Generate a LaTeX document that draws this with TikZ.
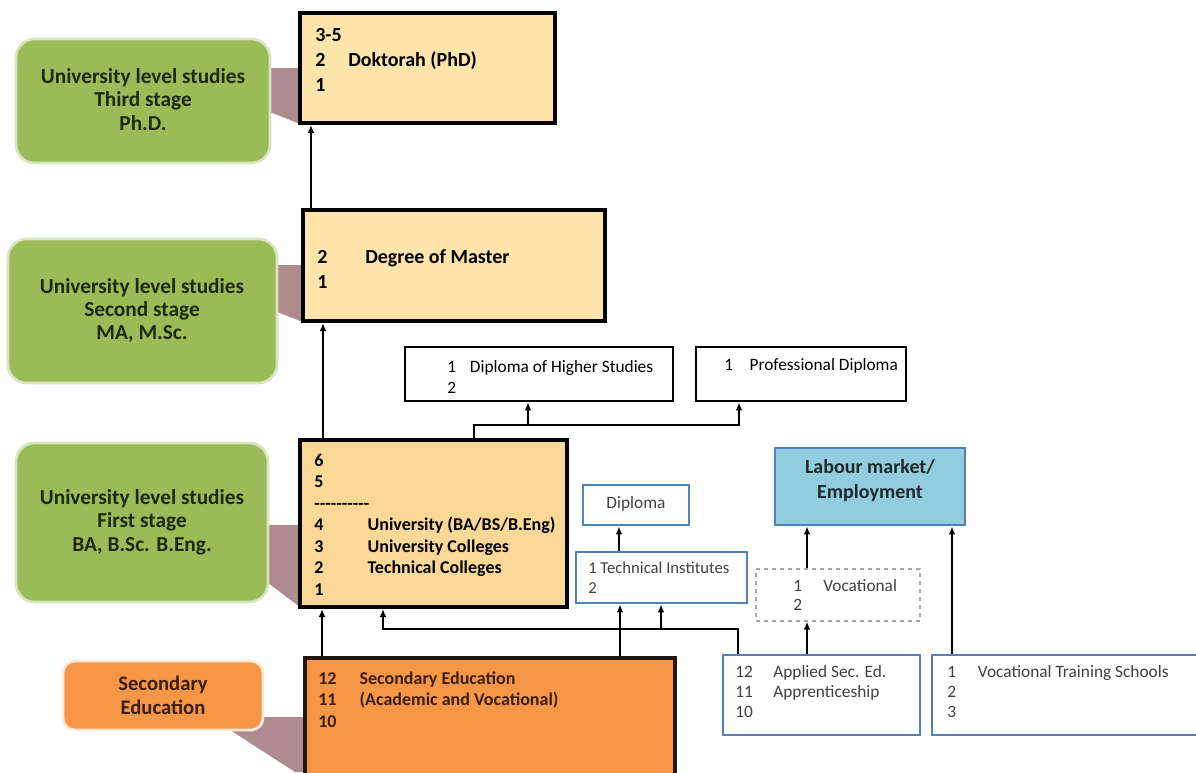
\documentclass[tikz,border=0pt]{standalone}
\usepackage{fontspec}
\setmainfont{Carlito}
\usetikzlibrary{arrows.meta,fit}

\definecolor{stagegreen}{HTML}{9BBB59}
\definecolor{stageedge}{HTML}{D7E4BD}
\definecolor{stagetext}{HTML}{1D2A0C}
\definecolor{secorange}{HTML}{F79646}
\definecolor{sectext}{HTML}{3A1F0A}
\definecolor{peach}{HTML}{FCE4AA}
\definecolor{peachdeep}{HTML}{FAD895}
\definecolor{wedge}{HTML}{AE8B8F}
\definecolor{labourfill}{HTML}{93CDDD}
\definecolor{blueedge}{HTML}{4F81BD}
\definecolor{softtext}{HTML}{404040}

% ten plain hyphens, kept apart so they do not turn into dashes
\newcommand\hyrow{\mbox{-}\mbox{-}\mbox{-}\mbox{-}\mbox{-}\mbox{-}\mbox{-}\mbox{-}\mbox{-}\mbox{-}}

\begin{document}
\begin{tikzpicture}[x=0.75pt, y=-0.75pt,
        stage/.style={rounded corners=14pt, fill=stagegreen, draw=stageedge, line width=2pt, inner sep=0pt},
        seccall/.style={stage, rounded corners=9pt, fill=secorange, draw=white!80!secorange},
        stagetxt/.style={inner sep=0pt, align=center, text=stagetext,
            font=\bfseries\fontsize{16}{17.5}\selectfont},
        degree/.style={draw=black, line width=3pt, fill=peach, inner sep=0pt},
        plain/.style={draw=black, line width=2pt, fill=white, inner sep=0pt},
        bluebox/.style={draw=blueedge, line width=2pt, fill=white, inner sep=0pt},
        boldtxt/.style={anchor=west, inner sep=0pt, align=left, font=\bfseries\fontsize{13.5}{16.1}\selectfont},
        softtxt/.style={anchor=west, inner sep=0pt, align=left, text=softtext, font=\fontsize{13}{15}\selectfont},
        thickarr/.style={-{Latex[length=6pt,width=5pt]}, line width=1.8pt},
        thinarr/.style={-{Latex[length=6pt,width=5pt]}, line width=1.3pt}
    ]
    \useasboundingbox (0,0) rectangle (1196,772);

    % callout wedges behind the boxes
    \fill[wedge] (270,68) -- (300,68) -- (300,124) -- (270,112) -- cycle;
    \fill[wedge] (277,265) -- (303,265) -- (303,322) -- (277,312) -- cycle;
    \fill[wedge] (268,525) -- (300,525) -- (300,607) -- (268,583) -- cycle;
    \fill[wedge] (240,717) -- (305,717) -- (305,772) -- (295,772) -- (230,730) -- cycle;

    % stage labels
    \node[stage, fit={(16,39) (270,163)}] (third) {};
    \node[stage, fit={(8,239) (277,383)}] (second) {};
    \node[stage, fit={(16,443) (268,602)}] (firstst) {};
    \node[seccall, fit={(63,661) (263,730)}] (seclab) {};
    \node[stagetxt] (thirdtxt) at (143,99.5) {University level studies\\Third stage\\Ph.D.};
    \node[stagetxt] (secondtxt) at (142,310.5) {University level studies\\Second stage\\MA, M.Sc.};
    \node[stagetxt] (firststtxt) at (142,522) {University level studies\\First stage\\BA, B.Sc. B.Eng.};
    \node[stagetxt, text=sectext, font=\bfseries\fontsize{15.5}{18}\selectfont] (seclabtxt) at (163,695)
        {Secondary\\Education};

    % main boxes
    \node[degree, fit={(300,13) (555,123)}] (phd) {};
    \node[degree, fit={(303,210) (605,321)}] (master) {};
    \node[degree, fill=peachdeep, fit={(300,440) (567,607)}] (first) {};
    \node[degree, fill=secorange, draw=black!85!secorange, fit={(305,658) (675,780)}] (sec) {};
    \node[plain, fit={(405,347) (673,401)}] (dhs) {};
    \node[plain, fit={(696,347) (906,401)}] (prof) {};
    \node[bluebox, fit={(583,485) (689,525)}] (diploma) {};
    \node[bluebox, fit={(576,552) (747,603)}] (tech) {};
    \node[draw=black!35, dashed, line width=1pt, fill=white, inner sep=0pt, fit={(756,569) (920,621)}] (voc) {};
    \node[bluebox, fill=labourfill, fit={(775,448) (965,525)}] (labour) {};
    \node[bluebox, fit={(723,655) (920,735)}] (applied) {};
    \node[bluebox, fit={(932,655) (1205,735)}] (vts) {};

    % box texts
    \node[boldtxt, font=\bfseries\fontsize{15}{18.75}\selectfont] (phdtxt) at (315,60)
        {3-5\\\makebox[24.75pt][l]{2}Doktorah (PhD)\\1};
    \node[boldtxt, font=\bfseries\fontsize{15}{18.75}\selectfont] (mastertxt) at (317,269.5)
        {\makebox[36pt][l]{2}Degree of Master\\1};
    \node[boldtxt] (firsttxt) at (314,524.5)
        {6\\5\\\hyrow\\\makebox[40pt][l]{4}University (BA/BS/B.Eng)\\\makebox[40pt][l]{3}University Colleges\\
         \makebox[40pt][l]{2}Technical Colleges\\1};
    \node[boldtxt, text=sectext] (sectxt) at (318,699.5)
        {\makebox[31pt][l]{12}Secondary Education\\\makebox[31pt][l]{11}(Academic and Vocational)\\10};
    \node[softtxt, text=black, font=\fontsize{13}{15.75}\selectfont] (dhstxt) at (447,376.5)
        {\makebox[17pt][l]{1}Diploma of Higher Studies\\2};
    \node[softtxt, text=black] (proftxt) at (724,366) {\makebox[19pt][l]{1}Professional Diploma};
    \node[softtxt, anchor=center] (diplomatxt) at (636,504) {Diploma};
    \node[softtxt, font=\fontsize{12.5}{14.6}\selectfont] (techtxt) at (588,577.5) {1 Technical Institutes\\2};
    \node[softtxt, font=\fontsize{13}{14.25}\selectfont] (voctxt) at (793,594.5) {\makebox[22.5pt][l]{1}Vocational\\2};
    \node[boldtxt, anchor=center, align=center, text=black!80!labourfill,
        font=\bfseries\fontsize{15}{18.75}\selectfont] (labourtxt) at (870,480.5) {Labour market/\\Employment};
    \node[softtxt] (appliedtxt) at (735,692)
        {\makebox[28.5pt][l]{12}Applied Sec. Ed.\\\makebox[28.5pt][l]{11}Apprenticeship\\10};
    \node[softtxt] (vtstxt) at (947,692) {\makebox[23pt][l]{1}Vocational Training Schools\\2\\3};

    % connectors
    \coordinate (dipbar) at (0,425);
    \coordinate (appbar) at (0,629);
    \draw[thinarr] (master.north -| 311,0) -- (phd.south -| 311,0);
    \draw[thickarr] (first.north -| 323,0) -- (master.south -| 323,0);
    \draw[thinarr] (first.north -| 474,0) |- (dipbar -| 739,0) -- (prof.south -| 739,0);
    \draw[thinarr] (dipbar -| 528,0) -- (dhs.south -| 528,0);
    \draw[thickarr] (sec.north -| 322,0) -- (first.south -| 322,0);
    \draw[thickarr] (sec.north -| 620,0) -- (tech.south -| 620,0);
    \draw[thinarr] (applied.north -| 738,0) |- (appbar -| 383,0) -- (first.south -| 383,0);
    \draw[thinarr] (appbar -| 661,0) -- (tech.south -| 661,0);
    \draw[thickarr] (tech.north -| 619,0) -- (diploma.south -| 619,0);
    \draw[thickarr] (applied.north -| 807,0) -- (voc.south -| 807,0);
    \draw[thickarr] (voc.north -| 807,0) -- (labour.south -| 807,0);
    \draw[thickarr] (vts.north -| 952,0) -- (labour.south -| 952,0);
\end{tikzpicture}
\end{document}
